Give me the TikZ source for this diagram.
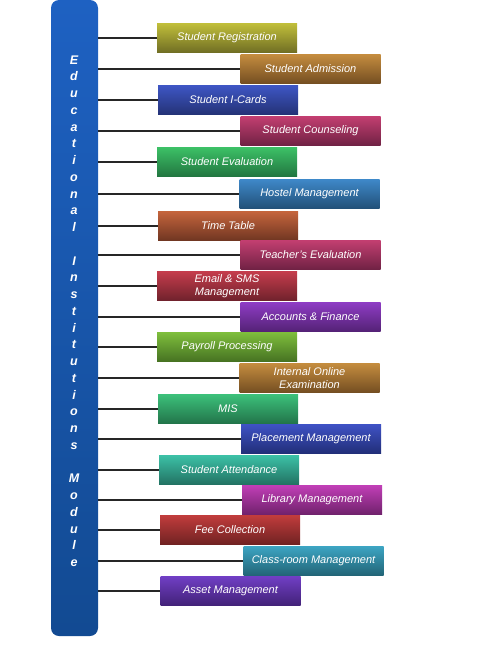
\documentclass[tikz,border=0pt]{standalone}
\usepackage{fontspec}
\setmainfont{Liberation Sans}

% colours, light top and dark bottom of each box
\definecolor{bartop}{RGB}{30,97,194}
\definecolor{barbot}{RGB}{18,74,146}
\definecolor{olivetop}{RGB}{192,190,58}
\definecolor{olivebot}{RGB}{112,110,36}
\definecolor{ochretop}{RGB}{196,140,62}
\definecolor{ochrebot}{RGB}{116,78,34}
\definecolor{bluetop}{RGB}{62,86,196}
\definecolor{bluebot}{RGB}{36,50,118}
\definecolor{rosetop}{RGB}{194,62,112}
\definecolor{rosebot}{RGB}{112,34,68}
\definecolor{greentop}{RGB}{60,192,102}
\definecolor{greenbot}{RGB}{34,118,64}
\definecolor{steeltop}{RGB}{62,136,200}
\definecolor{steelbot}{RGB}{34,80,120}
\definecolor{rusttop}{RGB}{196,100,60}
\definecolor{rustbot}{RGB}{112,54,34}
\definecolor{redtop}{RGB}{196,60,76}
\definecolor{redbot}{RGB}{112,34,44}
\definecolor{violettop}{RGB}{142,60,196}
\definecolor{violetbot}{RGB}{84,34,118}
\definecolor{limetop}{RGB}{126,190,60}
\definecolor{limebot}{RGB}{70,114,34}
\definecolor{jadetop}{RGB}{60,192,122}
\definecolor{jadebot}{RGB}{34,116,74}
\definecolor{navytop}{RGB}{62,82,196}
\definecolor{navybot}{RGB}{34,46,120}
\definecolor{tealtop}{RGB}{60,192,166}
\definecolor{tealbot}{RGB}{34,114,98}
\definecolor{magentatop}{RGB}{192,62,182}
\definecolor{magentabot}{RGB}{112,34,108}
\definecolor{crimsontop}{RGB}{192,60,60}
\definecolor{crimsonbot}{RGB}{112,34,34}
\definecolor{cyantop}{RGB}{60,164,194}
\definecolor{cyanbot}{RGB}{34,100,118}
\definecolor{indigotop}{RGB}{112,62,196}
\definecolor{indigobot}{RGB}{66,34,120}

\tikzset{
  module/.style={rectangle, minimum width=140pt, minimum height=29pt, inner sep=0pt,
    text=white, align=center, font=\fontsize{11}{13}\selectfont\itshape,
    top color=#1top, bottom color=#1bot},
  titlebar/.style={rectangle, rounded corners=8pt, minimum width=47pt, minimum height=636pt,
    inner sep=0pt, top color=bartop, bottom color=barbot},
  letter/.style={anchor=base, inner sep=0pt, text=white,
    font=\fontsize{12.5}{14}\selectfont\bfseries\itshape},
  link/.style={black!85, line width=1.2pt}
}

\begin{document}
\begin{tikzpicture}[x=1pt, y=-1pt]
    \useasboundingbox (0,0) rectangle (500,648);

    % Left bar with the vertical title
    \node[titlebar] (bar) at (74.5,318) {};
    \foreach \ch [count=\i from 0] in {E,d,u,c,a,t,i,o,n,a,l,{},I,n,s,t,i,t,u,t,i,o,n,s,{},M,o,d,u,l,e}
        \node[letter] (ch\i) at (74,{64+16.75*\i}) {\ch};

    % Modules, left and right column
    \node[module=olive]   (reg)       at (227,38)    {Student Registration};
    \node[module=ochre]   (adm)       at (310.5,69)  {Student Admission};
    \node[module=blue]    (icard)     at (228,100)   {Student I-Cards};
    \node[module=rose]    (couns)     at (310.5,131) {Student Counseling};
    \node[module=green]   (eval)      at (227,162)   {Student Evaluation};
    \node[module=steel]   (hostel)    at (309.5,194) {Hostel Management};
    \node[module=rust]    (timetab)   at (228,226)   {Time Table};
    \node[module=rose]    (teach)     at (310.5,255) {Teacher's Evaluation};
    \node[module=red]     (email)     at (227,286)   {Email \& SMS\\Management};
    \node[module=violet]  (accts)     at (310.5,317) {Accounts \& Finance};
    \node[module=lime]    (payroll)   at (227,347)   {Payroll Processing};
    \node[module=ochre]   (exam)      at (309.5,378) {Internal Online\\Examination};
    \node[module=jade]    (mis)       at (228,409)   {MIS};
    \node[module=navy]    (place)     at (311,439)   {Placement Management};
    \node[module=teal]    (attend)    at (229,470)   {Student Attendance};
    \node[module=magenta] (library)   at (312,500)   {Library Management};
    \node[module=crimson] (fee)       at (230,530)   {Fee Collection};
    \node[module=cyan]    (classroom) at (313.5,561) {Class-room Management};
    \node[module=indigo]  (asset)     at (230.5,591) {Asset Management};

    % Links from the bar
    \foreach \b in {reg,adm,icard,couns,eval,hostel,timetab,teach,email,accts,
                    payroll,exam,mis,place,attend,library,fee,classroom,asset}
        \draw[link] (\b.west -| bar.east) -- (\b.west);
\end{tikzpicture}
\end{document}
